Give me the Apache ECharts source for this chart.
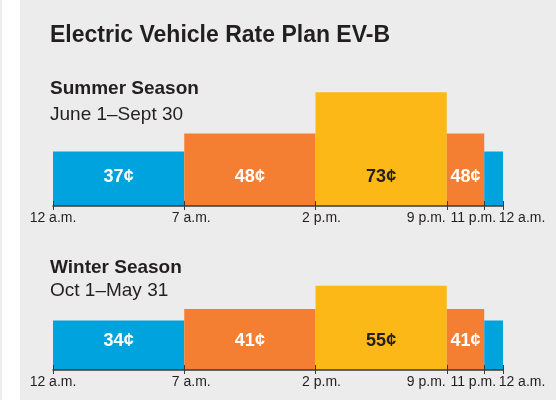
<!DOCTYPE html>
<html>
<head>
<meta charset="utf-8">
<script src="https://cdn.jsdelivr.net/npm/echarts@6/dist/echarts.min.js"></script>
<style>
  html, body { margin: 0; padding: 0; background: #ececec; }
  #chart { width: 556px; height: 400px; }
</style>
</head>
<body>
<div id="chart"></div>
<script>
// region data
const chartTitle = 'Electric Vehicle Rate Plan EV-B'
const seasonNames = ['Summer Season', 'Winter Season']
const seasonDates = ['June 1–Sept 30', 'Oct 1–May 31']

const periodStart = [0, 7, 14, 21, 23] // hour of day
const periodEnd = [7, 14, 21, 23, 24]
const periodTier = ['off', 'mid', 'peak', 'mid', 'off']
const periodLabelShown = [true, true, true, true, false]
const summerRates = [37, 48, 73, 48, 37] // cents per kWh
const winterRates = [34, 41, 55, 41, 34]

const tickHours = [0, 7, 14, 21, 23, 24]
const tickLabels = ['12 a.m.', '7 a.m.', '2 p.m.', '9 p.m.', '11 p.m.', '12 a.m.']
// endregion

const FONT = '"Liberation Sans", Arial, Helvetica, sans-serif'
const INK = '#231f20'
const tierColor = { off: '#00a3dd', mid: '#f47e32', peak: '#fbb817' }
const tierText = { off: '#ffffff', mid: '#ffffff', peak: INK }
const Y_MIN = 4
const Y_MAX = 80
const GRID_H = 125.4

const buildData = (rates) =>
  rates.map((r, i) => [periodStart[i], periodEnd[i], r, i])

const renderItem = (params, api) => {
  const i = api.value(3)
  const p0 = api.coord([api.value(0), api.value(2)])
  const p1 = api.coord([api.value(1), Y_MIN])
  const tier = periodTier[i]
  const children = [
    {
      type: 'rect',
      shape: { x: p0[0], y: p0[1], width: p1[0] - p0[0], height: p1[1] - p0[1] },
      style: { fill: tierColor[tier] },
    },
  ]
  if (periodLabelShown[i]) {
    children.push({
      type: 'text',
      style: {
        text: api.value(2) + '¢',
        x: (p0[0] + p1[0]) / 2,
        y: p1[1] - 28.5,
        align: 'center',
        verticalAlign: 'middle',
        fill: tierText[tier],
        font: 'bold 18px ' + FONT,
      },
    })
  }
  return { type: 'group', children }
}

// label nudges so the crowded end labels sit like the print
const labelRich = {
  t0: { padding: [0, 0, 0, 0] },
  t1: { padding: [0, 0, 0, 14] },
  t2: { padding: [0, 0, 0, 12] },
  t3: { padding: [0, 41, 0, 0] },
  t4: { padding: [0, 22, 0, 0] },
  t5: { padding: [0, 0, 0, 38] },
}
Object.values(labelRich).forEach((s) => {
  s.fontSize = 14
  s.fontFamily = FONT
  s.color = INK
})

const makeAxes = (gridIndex) => [
  {
    type: 'value',
    gridIndex,
    position: 'bottom',
    z: 5,
    min: 0,
    max: 24,
    splitLine: { show: false },
    axisLine: { show: true, onZero: false, lineStyle: { color: '#3a3a3a', width: 1.5 } },
    axisTick: { show: true, customValues: tickHours, length: 4, lineStyle: { color: '#3a3a3a', width: 1 } },
    axisLabel: {
      customValues: tickHours,
      margin: 5,
      hideOverlap: false,
      formatter: (v) => {
        const i = tickHours.indexOf(v)
        return '{t' + i + '|' + tickLabels[i] + '}'
      },
      rich: labelRich,
    },
  },
  {
    type: 'value',
    gridIndex,
    position: 'bottom',
    offset: 0,
    z: 5,
    min: 0,
    max: 24,
    splitLine: { show: false },
    axisLine: { show: false, onZero: false },
    axisTick: { show: true, inside: true, customValues: tickHours, length: 5, lineStyle: { color: '#3a3a3a', width: 1 } },
    axisLabel: { show: false },
  },
]

const chart = echarts.init(document.getElementById('chart'))
const titleStyle = (size, weight) => ({ fontSize: size, fontWeight: weight, color: INK, fontFamily: FONT })

chart.setOption({
  backgroundColor: '#ececec',
  animation: false,
  title: [
    { text: chartTitle, left: 50, top: 24, padding: 0, textStyle: titleStyle(23, 'bold') },
    { text: seasonNames[0], left: 50, top: 79, padding: 0, textStyle: titleStyle(19, 'bold') },
    { text: seasonDates[0], left: 50, top: 105, padding: 0, textStyle: titleStyle(19, 'normal') },
    { text: seasonNames[1], left: 50, top: 258, padding: 0, textStyle: titleStyle(19, 'bold') },
    { text: seasonDates[1], left: 50, top: 281, padding: 0, textStyle: titleStyle(19, 'normal') },
  ],
  graphic: [
    { type: 'rect', shape: { x: 2, y: 0, width: 18, height: 400 }, style: { fill: '#ffffff' }, silent: true },
  ],
  grid: [
    { left: 53, right: 53, top: 206 - GRID_H, height: GRID_H },
    { left: 53, right: 53, top: 370 - GRID_H, height: GRID_H },
  ],
  xAxis: [...makeAxes(0), ...makeAxes(1)],
  yAxis: [
    { type: 'value', gridIndex: 0, min: Y_MIN, max: Y_MAX, show: false },
    { type: 'value', gridIndex: 1, min: Y_MIN, max: Y_MAX, show: false },
  ],
  series: [
    {
      name: seasonNames[0],
      type: 'custom',
      xAxisIndex: 0,
      yAxisIndex: 0,
      renderItem,
      encode: { x: [0, 1], y: 2 },
      data: buildData(summerRates),
      z: 1,
    },
    {
      name: seasonNames[1],
      type: 'custom',
      xAxisIndex: 2,
      yAxisIndex: 1,
      renderItem,
      encode: { x: [0, 1], y: 2 },
      data: buildData(winterRates),
      z: 1,
    },
  ],
})
</script>
</body>
</html>
